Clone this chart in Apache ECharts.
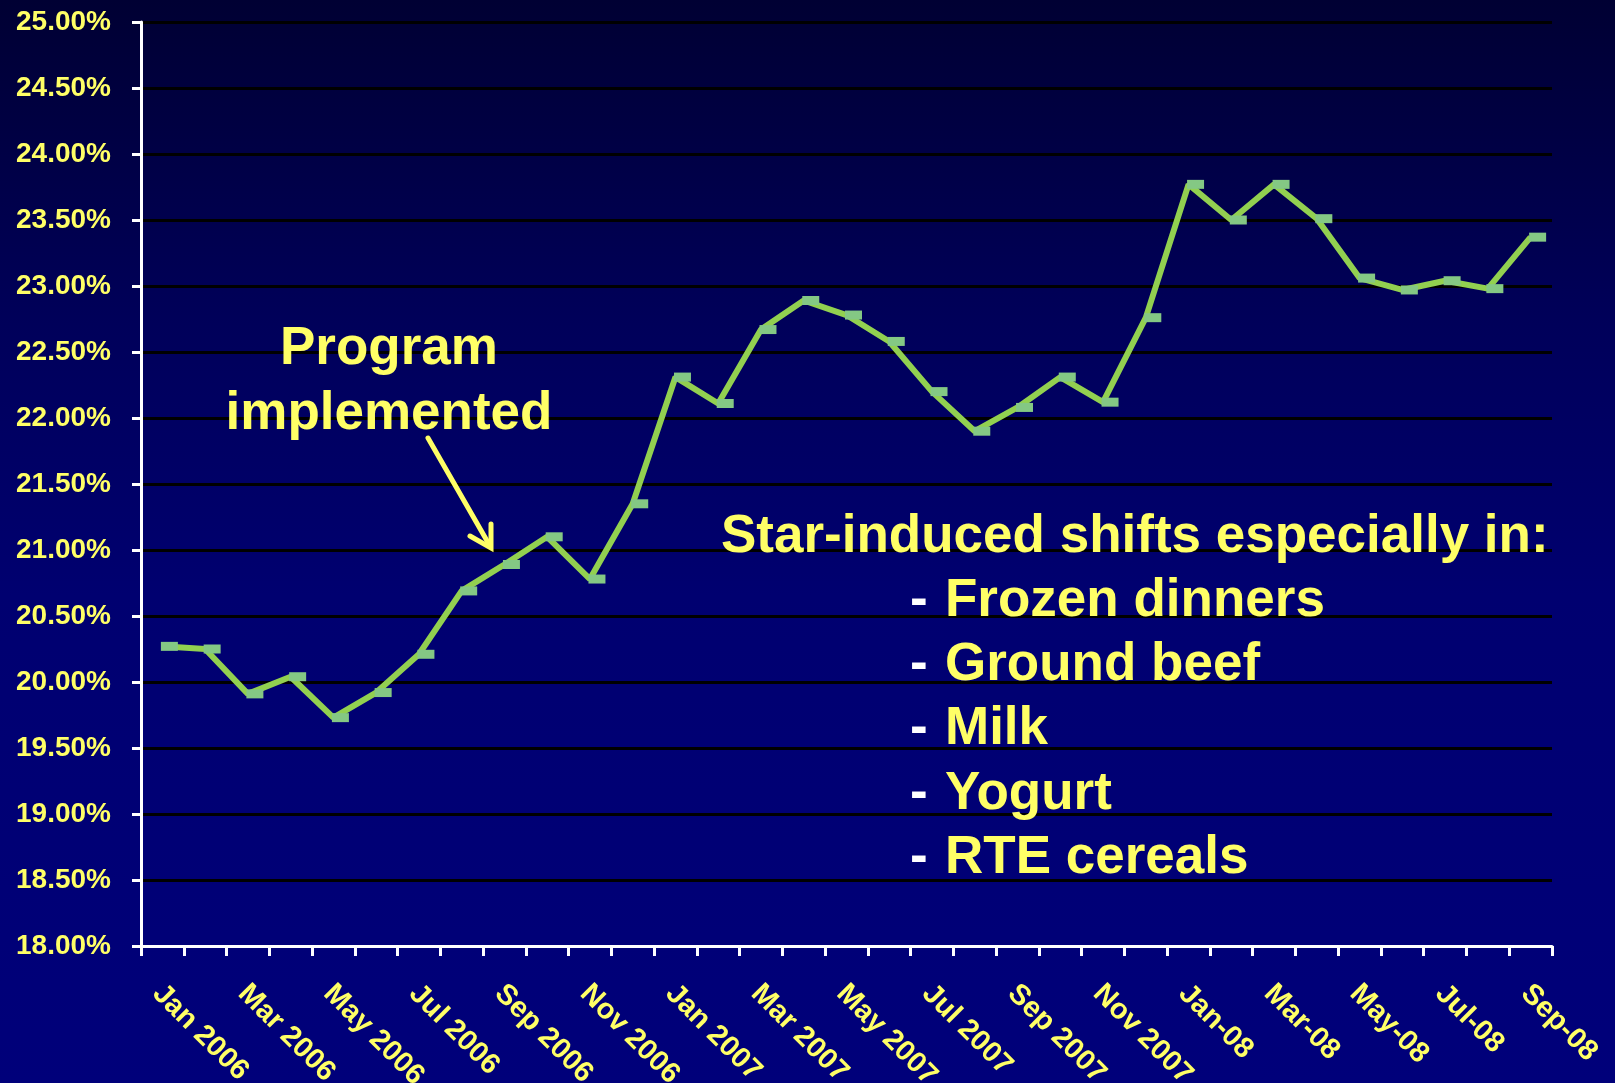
<!DOCTYPE html>
<html>
<head>
<meta charset="utf-8">
<script src="https://cdn.jsdelivr.net/npm/echarts@6/dist/echarts.min.js"></script>
<style>
  html, body { margin: 0; padding: 0; background: #000050; }
  #chart { width: 1615px; height: 1083px; }
</style>
</head>
<body>
<div id="chart"></div>
<script>
const categories = [
  'Jan 2006','Feb 2006','Mar 2006','Apr 2006','May 2006','Jun 2006','Jul 2006','Aug 2006','Sep 2006','Oct 2006','Nov 2006','Dec 2006',
  'Jan 2007','Feb 2007','Mar 2007','Apr 2007','May 2007','Jun 2007','Jul 2007','Aug 2007','Sep 2007','Oct 2007','Nov 2007','Dec 2007',
  'Jan-08','Feb-08','Mar-08','Apr-08','May-08','Jun-08','Jul-08','Aug-08','Sep-08'
];
const shareValues = [
  20.27, 20.25, 19.91, 20.04, 19.73, 19.92, 20.21, 20.69, 20.89, 21.10, 20.78, 21.35,
  22.31, 22.11, 22.67, 22.89, 22.78, 22.58, 22.20, 21.90, 22.08, 22.31, 22.12, 22.76,
  23.77, 23.50, 23.77, 23.51, 23.06, 22.97, 23.04, 22.98, 23.37
];
const yMin = 18, yMax = 25, yStep = 0.5;
const annotationLines = ['Program', 'implemented'];
const noteTitle = 'Star-induced shifts especially in:';
const noteItems = ['Frozen dinners', 'Ground beef', 'Milk', 'Yogurt', 'RTE cereals'];

const FONT = '"Liberation Sans", Arial, sans-serif';
const YELLOW = '#FFFF66';
const BIG = 'bold 53px ' + FONT;

const graphics = [];
annotationLines.forEach((t, i) => {
  graphics.push({ type: 'text', x: 389, y: 349 + i * 65, z: 100,
    style: { text: t, fill: YELLOW, font: BIG, textAlign: 'center', textVerticalAlign: 'middle' } });
});
graphics.push({ type: 'text', x: 721, y: 537, z: 100,
  style: { text: noteTitle, fill: YELLOW, font: BIG, textAlign: 'left', textVerticalAlign: 'middle' } });
noteItems.forEach((t, i) => {
  const y = 601 + i * 64.3;
  graphics.push({ type: 'text', x: 910, y: y, z: 100,
    style: { text: '-', fill: '#FFFFFF', font: BIG, textAlign: 'left', textVerticalAlign: 'middle' } });
  graphics.push({ type: 'text', x: 945, y: y, z: 100,
    style: { text: t, fill: YELLOW, font: BIG, textAlign: 'left', textVerticalAlign: 'middle' } });
});
graphics.push({ type: 'line', z: 100, shape: { x1: 428, y1: 438, x2: 490, y2: 546 },
  style: { stroke: YELLOW, lineWidth: 5, lineCap: 'round' } });
graphics.push({ type: 'polyline', z: 100, shape: { points: [[470, 536], [491, 548], [491, 524]] },
  style: { stroke: YELLOW, lineWidth: 5, fill: null, lineCap: 'round', lineJoin: 'miter' } });

const chart = echarts.init(document.getElementById('chart'), null, { renderer: 'canvas' });
chart.setOption({
  animation: false,
  backgroundColor: {
    type: 'linear', x: 0, y: 0, x2: 0, y2: 1,
    colorStops: [
      { offset: 0, color: '#000033' },
      { offset: 0.3, color: '#00005A' },
      { offset: 0.55, color: '#000070' },
      { offset: 1, color: '#00007A' }
    ]
  },
  grid: { left: 141, right: 63, top: 22, bottom: 137, containLabel: false, outerBoundsMode: 'none' },
  xAxis: {
    type: 'category',
    data: categories,
    boundaryGap: true,
    axisLine: { lineStyle: { color: '#FFFFFF', width: 3 } },
    axisTick: { show: true, interval: 0, length: 10, lineStyle: { color: '#FFFFFF', width: 3 } },
    axisLabel: {
      interval: 1, rotate: -45, align: 'left', verticalAlign: 'top', margin: 28,
      padding: [0, 0, 0, 7],
      color: YELLOW, fontFamily: FONT, fontWeight: 'bold', fontSize: 29
    },
    splitLine: { show: false }
  },
  yAxis: {
    type: 'value',
    min: yMin, max: yMax, interval: yStep,
    axisLine: { show: true, lineStyle: { color: '#FFFFFF', width: 3 } },
    axisTick: { show: true, length: 9, lineStyle: { color: '#FFFFFF', width: 3 } },
    axisLabel: {
      margin: 30, color: YELLOW, fontFamily: FONT, fontWeight: 'bold', fontSize: 28,
      formatter: v => v.toFixed(2) + '%'
    },
    splitLine: { show: true, lineStyle: { color: '#000000', width: 3 } }
  },
  series: [{
    type: 'line',
    data: shareValues,
    lineStyle: { color: '#92D050', width: 6 },
    symbol: 'rect',
    symbolSize: [17, 9],
    symbolOffset: [7, 0],
    itemStyle: { color: '#84C884' },
    z: 3
  }],
  graphic: graphics
});
</script>
</body>
</html>
